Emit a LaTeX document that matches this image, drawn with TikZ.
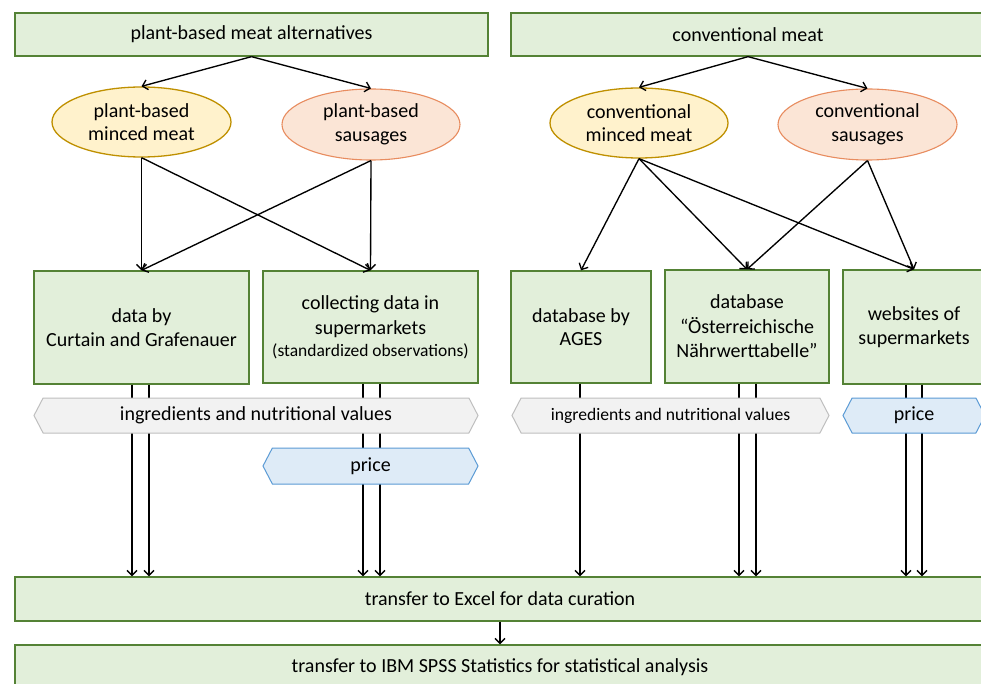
\documentclass[tikz,border=0pt]{standalone}
\usepackage{fontspec}
\setmainfont{Carlito}
\usetikzlibrary{arrows.meta,shapes.geometric,shapes.symbols,calc}
\definecolor{gfill}{HTML}{E2EFDA}
\definecolor{gline}{HTML}{548235}
\definecolor{yfill}{HTML}{FFF2CC}
\definecolor{yline}{HTML}{BF9000}
\definecolor{ofill}{HTML}{FBE5D6}
\definecolor{oline}{RGB}{232,140,95}
\definecolor{hgfill}{HTML}{F2F2F2}
\definecolor{hgline}{HTML}{BFBFBF}
\definecolor{hbfill}{HTML}{DEEBF7}
\definecolor{hbline}{HTML}{5B9BD5}
\tikzset{
  gbox/.style={draw=gline, fill=gfill, line width=1.3pt, rectangle, inner sep=0pt, align=center, font=\fontsize{20}{23.5}\selectfont},
  yell/.style={draw=yline, fill=yfill, line width=1.3pt, ellipse, inner sep=0pt, align=center, font=\fontsize{20}{23.5}\selectfont},
  oell/.style={draw=oline, fill=ofill, line width=1.1pt, ellipse, inner sep=0pt, align=center, font=\fontsize{20}{23.5}\selectfont},
  hexg/.style={draw=hgline, fill=hgfill, line width=1pt, signal, signal to=west and east, signal pointer angle=125, inner sep=0pt},
  hexb/.style={draw=hbline, fill=hbfill, line width=1pt, signal, signal to=west and east, signal pointer angle=125, inner sep=0pt},
  conn/.style={line width=1.35pt, -{Straight Barb[length=5pt,width=10pt]}},
}
\begin{document}
\begin{tikzpicture}[x=1pt,y=-1pt]
\clip (0,0) rectangle (981,684);
\fill[white] (0,0) rectangle (981,684);
% top boxes
\node[gbox, minimum width=473, minimum height=43] (pb) at (251.5,34.5) {plant-based meat alternatives};
\node[gbox, minimum width=474, minimum height=43] (cm) at (748,34.5) {conventional meat};
% ellipses
\node[yell, minimum width=179, minimum height=70] (pmm) at (141.5,122) {plant-based\\minced meat};
\node[oell, minimum width=178, minimum height=71] (pss) at (371,124.5) {plant-based\\sausages};
\node[yell, minimum width=178, minimum height=70] (cmm) at (639,123) {conventional\\minced meat};
\node[oell, minimum width=179, minimum height=71] (css) at (867.5,124.5) {conventional\\sausages};
% source boxes
\node[gbox, minimum width=215, minimum height=113] (db) at (141.5,327.5) {data by\\Curtain and Grafenauer};
\node[gbox, minimum width=215, minimum height=112, font=\fontsize{20}{25}\selectfont] (cd) at (370.5,327) {collecting data in\\supermarkets\\[-3pt]{\fontsize{17.5}{20}\selectfont (standardized observations)}};
\node[gbox, minimum width=140, minimum height=112] (ag) at (581,327) {database by\\AGES};
\node[gbox, minimum width=164, minimum height=113, font=\fontsize{20}{24.5}\selectfont] (oe) at (747,326.5) {database\\“Österreichische\\Nährwerttabelle”};
\node[gbox, minimum width=142, minimum height=114] (ws) at (914,327) {websites of\\supermarkets};
% bottom boxes
\node[gbox, minimum width=970, minimum height=44] (ex) at (500,599) {transfer to Excel for data curation};
\node[gbox, minimum width=970, minimum height=44] (sp) at (500,667) {transfer to IBM SPSS Statistics for statistical analysis};
% arrows top
\draw[conn] (pb.south) -- (pmm.north);
\draw[conn] (pb.south) -- (pss.north);
\draw[conn] (cm.south) -- (cmm.north);
\draw[conn] (cm.south) -- (css.north);
% arrows ellipses to boxes
\draw[conn] (pmm.south) -- (db.north);
\draw[conn] (pmm.south) -- (cd.north);
\draw[conn] (pss.south) -- (db.north);
\draw[conn] (pss.south) -- (cd.north);
\draw[conn] (cmm.south) -- (ag.north);
\draw[conn] (cmm.south) -- (oe.north);
\draw[conn] (cmm.south) -- (ws.north);
\draw[conn] (css.south) -- (oe.north);
\draw[conn] (css.south) -- (ws.north);
% vertical lines to excel
\coordinate (d1) at ($(db.south)+(-9.5,0)$);
\coordinate (d2) at ($(db.south)+(7.5,0)$);
\coordinate (c1) at ($(cd.south)+(-7.5,0)$);
\coordinate (c2) at ($(cd.south)+(9.5,0)$);
\coordinate (a1) at ($(ag.south)+(-1,0)$);
\coordinate (o1) at ($(oe.south)+(-8,0)$);
\coordinate (o2) at ($(oe.south)+(9,0)$);
\coordinate (w1) at ($(ws.south)+(-8,0)$);
\coordinate (w2) at ($(ws.south)+(8,0)$);
\foreach \p in {d1,d2,c1,c2,a1,o1,o2,w1,w2}
  \draw[conn] (\p) -- (\p |- ex.north);
\draw[conn] (ex.south) -- (sp.north);
% hexagon labels
\node[hexg, minimum width=444, minimum height=35, font=\fontsize{20}{22}\selectfont] (ing1) at (256,415.5) {ingredients and nutritional values};
\node[hexb, minimum width=215, minimum height=36, font=\fontsize{20}{22}\selectfont] (pr1) at (370.5,466) {price};
\node[hexg, minimum width=317, minimum height=35, font=\fontsize{17.6}{20}\selectfont] (ing2) at (670.5,415.5) {ingredients and nutritional values};
\node[hexb, minimum width=142, minimum height=35, font=\fontsize{20}{22}\selectfont] (pr2) at (914,415.5) {price};
\end{tikzpicture}
\end{document}
